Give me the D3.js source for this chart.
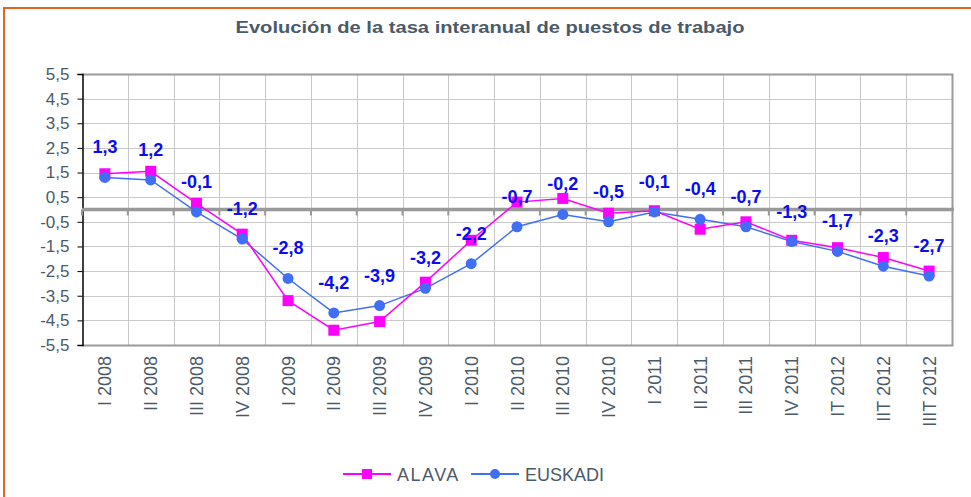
<!DOCTYPE html>
<html>
<head>
<meta charset="utf-8">
<script src="https://cdn.jsdelivr.net/npm/d3@7"></script>
<style>
body { margin: 0; background: #fff; }
svg { display: block; }
</style>
</head>
<body>
<script>
var w = 971;
var h = 497;

var periods = ["I 2008", "II 2008", "III 2008", "IV 2008", "I 2009", "II 2009", "III 2009", "IV 2009",
    "I 2010", "II 2010", "III 2010", "IV 2010", "I 2011", "II 2011", "III 2011", "IV 2011",
    "IT 2012", "IIT 2012", "IIIT 2012"];
var alava = [1.45, 1.55, 0.25, -1.0, -3.7, -4.9, -4.55, -2.95, -1.25, 0.3, 0.45, -0.15, -0.05, -0.8, -0.5, -1.25, -1.55, -1.95, -2.5];
var euskadi = [1.3, 1.2, -0.1, -1.2, -2.8, -4.2, -3.9, -3.2, -2.2, -0.7, -0.2, -0.5, -0.1, -0.4, -0.7, -1.3, -1.7, -2.3, -2.7];
var yTicks = [5.5, 4.5, 3.5, 2.5, 1.5, 0.5, -0.5, -1.5, -2.5, -3.5, -4.5, -5.5];

var textGray = "#4b5a68";
var font = "Liberation Sans, Arial, sans-serif";
var fmt = function(v) { return String(v).replace(".", ","); };

var svg = d3.select("body").append("svg")
    .attr("width", w)
    .attr("height", h);

// orange frame (runs off the right/bottom)
svg.append("rect")
    .attr("x", 4).attr("y", 8)
    .attr("width", w + 10).attr("height", h + 10)
    .attr("fill", "none")
    .attr("stroke", "#e8641e")
    .attr("stroke-width", 2);

svg.append("text")
    .attr("x", 490).attr("y", 33)
    .attr("text-anchor", "middle")
    .attr("font-family", font)
    .attr("font-weight", "bold")
    .attr("font-size", "17px")
    .attr("textLength", 509)
    .attr("lengthAdjust", "spacingAndGlyphs")
    .attr("fill", textGray)
    .text("Evolución de la tasa interanual de puestos de trabajo");

var pl = 82, pr = 952, pt = 74, pb = 345;

var x = d3.scaleBand().domain(periods).range([pl, pr]);
var y = d3.scaleLinear().domain([-5.5, 5.5]).range([pb, pt]);
var cx = function(d, i) { return x(periods[i]) + x.bandwidth() / 2; };

// gridlines
var grid = svg.append("g").attr("stroke", "#c9c9c9").attr("stroke-width", 1);
grid.selectAll("line.h").data(yTicks).enter().append("line")
    .attr("x1", pl).attr("x2", pr)
    .attr("y1", function(d) { return Math.round(y(d)) + 0.5; })
    .attr("y2", function(d) { return Math.round(y(d)) + 0.5; });
grid.selectAll("line.v").data(periods.slice(1)).enter().append("line")
    .attr("x1", function(d) { return Math.round(x(d)) + 0.5; })
    .attr("x2", function(d) { return Math.round(x(d)) + 0.5; })
    .attr("y1", pt).attr("y2", pb);

// plot frame top/right/bottom
svg.append("path")
    .attr("d", "M" + pl + "," + (pt + 0.5) + "H" + (pr + 0.5) + "V" + (pb + 0.5) + "H" + pl)
    .attr("fill", "none")
    .attr("stroke", "#9a9a9a")
    .attr("stroke-width", 2);

// y axis
var yAxis = d3.axisLeft(y).tickValues(yTicks).tickSize(5).tickPadding(8).tickFormat(fmt);
var gy = svg.append("g").attr("transform", "translate(" + (pl + 0.5) + ",0)").call(yAxis);
gy.select(".domain").attr("stroke", "#000").attr("stroke-width", 1.5);
gy.selectAll(".tick line").attr("stroke", "#000");
gy.selectAll("text")
    .attr("font-family", font)
    .attr("font-size", "17px")
    .attr("fill", textGray);

// zero line with category ticks
var y0 = y(0);
svg.append("g").attr("stroke", "#999").attr("stroke-width", 2)
    .selectAll("line").data(periods).enter().append("line")
    .attr("x1", function(d) { return x(d); })
    .attr("x2", function(d) { return x(d); })
    .attr("y1", y0).attr("y2", y0 + 6);
svg.append("line")
    .attr("x1", pl).attr("x2", pr + 2)
    .attr("y1", y0).attr("y2", y0)
    .attr("stroke", "#999").attr("stroke-width", 3.5);

// x labels
svg.append("g").selectAll("text").data(periods).enter().append("text")
    .attr("transform", function(d, i) { return "translate(" + (cx(d, i) + 6.5) + ",356) rotate(-90)"; })
    .attr("text-anchor", "end")
    .attr("font-family", font)
    .attr("font-size", "18px")
    .attr("fill", textGray)
    .text(function(d) { return d; });

// lines
var line = d3.line().x(cx).y(function(d) { return y(d); });
svg.append("path").datum(euskadi)
    .attr("d", line).attr("fill", "none")
    .attr("stroke", "#3f6ff5").attr("stroke-width", 1.5);
svg.append("path").datum(alava)
    .attr("d", line).attr("fill", "none")
    .attr("stroke", "#ff00ff").attr("stroke-width", 1.5);

svg.append("g").selectAll("rect").data(alava).enter().append("rect")
    .attr("x", function(d, i) { return cx(d, i) - 5.5; })
    .attr("y", function(d) { return y(d) - 5.5; })
    .attr("width", 11).attr("height", 11)
    .attr("fill", "#ff00ff");
svg.append("g").selectAll("circle").data(euskadi).enter().append("circle")
    .attr("cx", cx)
    .attr("cy", function(d) { return y(d); })
    .attr("r", 5.5)
    .attr("fill", "#3f6ff5");

// data labels for euskadi
svg.append("g").selectAll("text").data(euskadi).enter().append("text")
    .attr("x", cx)
    .attr("y", function(d) { return y(d) - 24; })
    .attr("text-anchor", "middle")
    .attr("font-family", font)
    .attr("font-weight", "bold")
    .attr("font-size", "18px")
    .attr("fill", "#0c0cf0")
    .text(fmt);

// legend
var legend = [
    { name: "ALAVA", color: "#ff00ff", shape: "square", x: 343 },
    { name: "EUSKADI", color: "#3f6ff5", shape: "circle", x: 471 }
];
var lg = svg.append("g").selectAll("g").data(legend).enter().append("g")
    .attr("transform", function(d) { return "translate(" + d.x + ",474)"; });
lg.append("line").attr("x1", 0).attr("x2", 48)
    .attr("stroke", function(d) { return d.color; }).attr("stroke-width", 2);
lg.filter(function(d) { return d.shape == "square"; }).append("rect")
    .attr("x", 19).attr("y", -5).attr("width", 10).attr("height", 10)
    .attr("fill", function(d) { return d.color; });
lg.filter(function(d) { return d.shape == "circle"; }).append("circle")
    .attr("cx", 24).attr("r", 5)
    .attr("fill", function(d) { return d.color; });
lg.append("text")
    .attr("x", 54).attr("y", 6.5)
    .attr("font-family", font)
    .attr("font-size", "18px")
    .attr("letter-spacing", function(d) { return d.name == "ALAVA" ? "1.5px" : "0px"; })
    .attr("fill", textGray)
    .text(function(d) { return d.name; });
</script>
</body>
</html>
